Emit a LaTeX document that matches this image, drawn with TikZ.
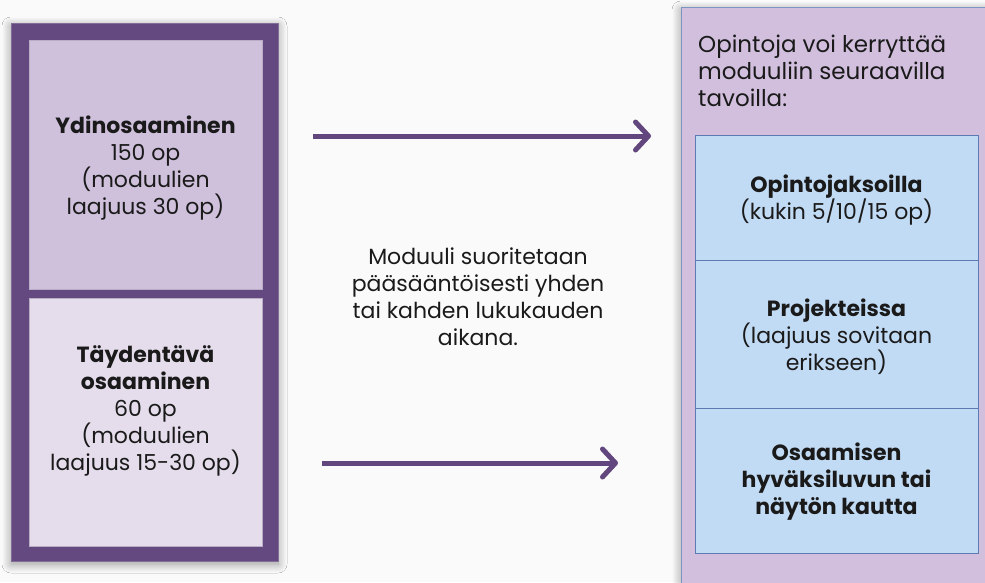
\documentclass[tikz,border=0pt]{standalone}
\usepackage{fontspec}
\setmainfont{Poppins}
\usetikzlibrary{arrows.meta,shadows.blur}
\definecolor{darkpurple}{HTML}{644880}
\definecolor{toppurple}{HTML}{CFC0DC}
\definecolor{lowpurple}{HTML}{E5DDEC}
\definecolor{rightpurple}{HTML}{D1BFDD}
\definecolor{paleblue}{HTML}{C2DBF5}
\definecolor{blueline}{HTML}{5D7AB2}
\definecolor{arrowcol}{HTML}{62467E}
\definecolor{textcol}{HTML}{1A1A1A}
\definecolor{bgcol}{HTML}{FAFAFA}
\begin{document}
\begin{tikzpicture}[x=1pt,y=-1pt,
  rect/.style={inner sep=0pt, outer sep=0pt, anchor=north west},
  txt/.style={text=textcol, align=center, inner sep=0pt, font=\fontsize{22}{27}\selectfont},
  arr/.style={draw=arrowcol, line width=5pt, -{Straight Barb[length=13pt,width=28pt,line cap=round,line join=round]}},
  shade/.style={blur shadow={shadow xshift=0pt, shadow yshift=-3pt, shadow blur radius=9pt, shadow opacity=40, shadow blur steps=12}}
]
\useasboundingbox (0,0) rectangle (985,582);
\fill[bgcol] (0,0) rectangle (985,582);
\clip (0,0) rectangle (985,582);

% left column
\node[rect, fill=darkpurple, draw=darkpurple!80!white, line width=0.5pt, minimum width=267pt, minimum height=538pt, shade] (outer) at (11,23) {};
\node[rect, fill=toppurple, draw=darkpurple!45!white, line width=0.6pt, minimum width=233pt, minimum height=249pt] (core) at (29,40) {};
\node[rect, fill=lowpurple, draw=darkpurple!45!white, line width=0.6pt, minimum width=233pt, minimum height=248pt] (supp) at (29,298) {};
\node[txt] (coretxt) at (145.5,168) {\textbf{Ydinosaaminen}\\150 op\\(moduulien\\laajuus 30 op)};
\node[txt] (supptxt) at (145.5,411) {\textbf{Täydentävä}\\\textbf{osaaminen}\\60 op\\(moduulien\\laajuus 15-30 op)};

% right column
\node[rect, fill=rightpurple, draw=blueline!80!white, line width=0.8pt, minimum width=320pt, minimum height=590pt, shade] (right) at (681,7) {};
\node[txt, anchor=west, align=left, font=\fontsize{23}{27}\selectfont] (head) at (698,71) {Opintoja voi kerryttää\\moduuliin seuraavilla\\tavoilla:};
\node[rect, fill=paleblue, draw=blueline, line width=0.8pt, minimum width=283pt, minimum height=125pt] (b1) at (695,135) {};
\node[rect, fill=paleblue, draw=blueline, line width=0.8pt, minimum width=283pt, minimum height=148pt] (b2) at (695,260) {};
\node[rect, fill=paleblue, draw=blueline, line width=0.8pt, minimum width=283pt, minimum height=145pt] (b3) at (695,408) {};
\node[txt] (b1txt) at (836.5,200) {\textbf{Opintojaksoilla}\\(kukin 5/10/15 op)};
\node[txt] (b2txt) at (836.5,337) {\textbf{Projekteissa}\\(laajuus sovitaan\\erikseen)};
\node[txt] (b3txt) at (836.5,482) {\textbf{Osaamisen}\\\textbf{hyväksiluvun tai}\\\textbf{näytön kautta}};

% middle
\node[txt] (mid) at (478,297) {Moduuli suoritetaan\\pääsääntöisesti yhden\\tai kahden lukukauden\\aikana.};

% arrows
\coordinate (a1s) at (313,136);
\coordinate (a1e) at (651,136);
\coordinate (a2s) at (322,463);
\coordinate (a2e) at (618,463);
\draw[arr] (a1s) -- (a1e);
\draw[arr] (a2s) -- (a2e);
\end{tikzpicture}
\end{document}
